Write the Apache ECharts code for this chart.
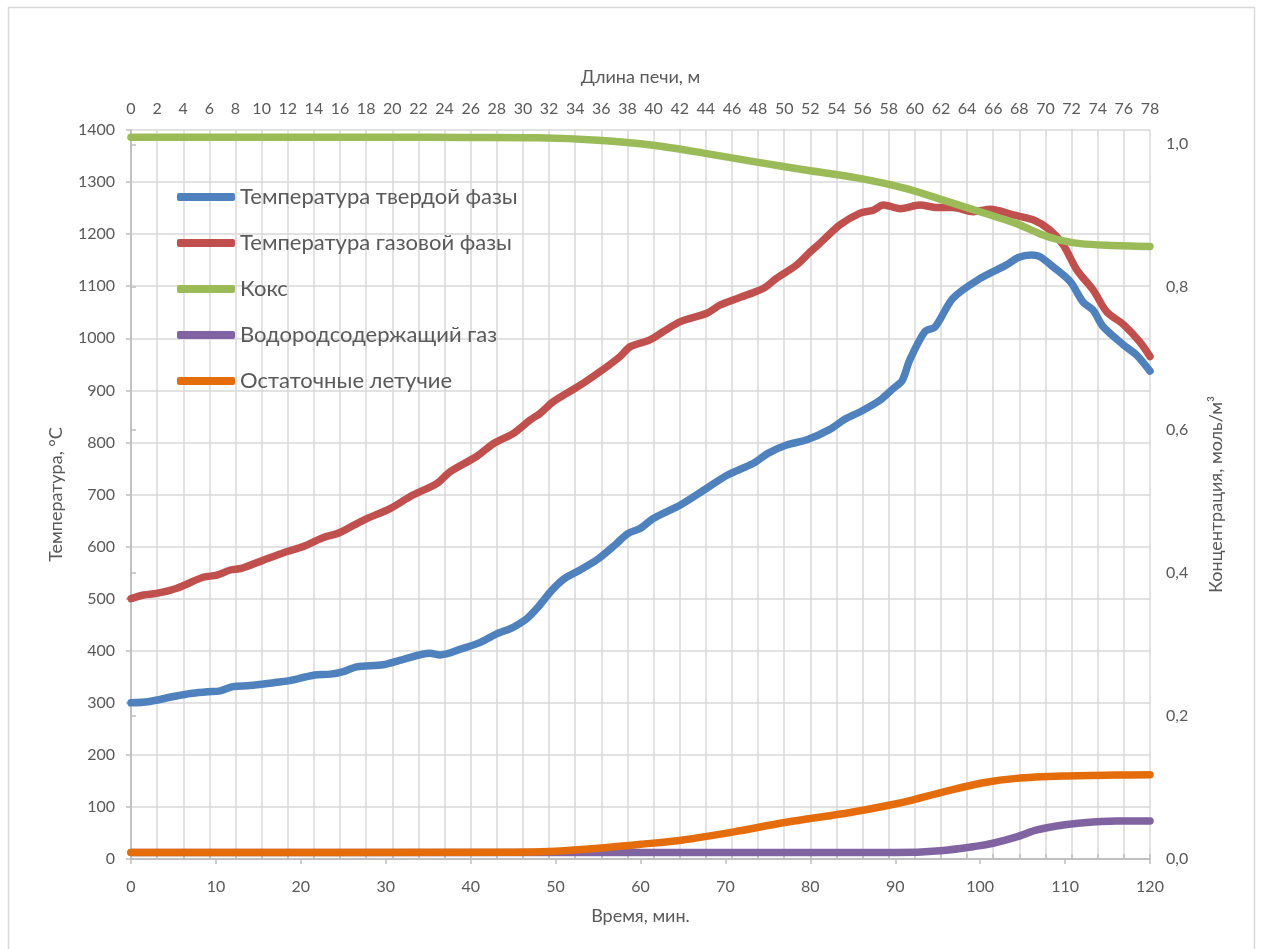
<!DOCTYPE html>
<html>
<head>
<meta charset="utf-8">
<script src="https://cdn.jsdelivr.net/npm/echarts@6/dist/echarts.min.js"></script>
<style>
  html, body { margin: 0; padding: 0; background: #ffffff; }
  #chart { width: 1261px; height: 949px; }
</style>
</head>
<body>
<div id="chart"></div>
<script>
// ---- Data ----
const seriesNames = ['Температура твердой фазы', 'Температура газовой фазы', 'Кокс', 'Водородсодержащий газ', 'Остаточные летучие'];

// Solid phase temperature, °C
const solidTime = [0, 2, 5, 7, 9, 10.5, 12, 14, 17, 18.5, 21.5, 23.5, 25, 26.6, 29.7, 32, 35.2, 36.4, 39, 41, 43, 45, 46.5, 48, 49.5, 51, 53, 55, 57, 58.5, 60, 61.5, 64.7, 67.8, 70.2, 73.3, 75, 77.2, 79.6, 82.3, 84, 86, 88.2, 89.8, 90.8, 91.7, 93.5, 94.7, 96.8, 100, 103, 104.5, 106, 107, 108.6, 110.6, 112.1, 113.3, 114.5, 116.9, 118.4, 120];
const solidTemp = [300, 302, 312, 318, 321, 323, 331, 333, 339, 342, 353, 355, 360, 369, 373, 383, 395, 392, 404, 415, 432, 445, 460, 485, 515, 538, 556, 576, 603, 625, 635, 654, 680, 712, 737, 760, 779, 795, 805, 825, 844, 860, 881, 904, 918, 958, 1013, 1022, 1077, 1115, 1140, 1155, 1160, 1157, 1137, 1109, 1070, 1054, 1022, 987, 968, 937];

// Gas phase temperature, °C
const gasTime = [0, 1.5, 3, 5.4, 8.5, 10.1, 11.7, 13, 15.6, 18.3, 20.3, 22.6, 24.6, 27.4, 30.5, 33.2, 36, 37.6, 40.7, 42.7, 45, 47, 48.2, 49.7, 52.9, 56, 57.6, 58.8, 61.1, 62.7, 64.7, 67.8, 69.4, 72.5, 74.5, 76, 78.4, 80, 81.1, 83.5, 85.8, 87.4, 88.6, 90.6, 92.9, 94.9, 96.8, 99.2, 101.2, 103.9, 106.3, 108.2, 109.8, 111.4, 113.3, 114.9, 116.9, 118.8, 120];
const gasTemp = [500, 507, 510, 520, 541, 545, 555, 558, 574, 590, 600, 617, 627, 651, 673, 699, 721, 744, 773, 798, 817, 843, 856, 878, 910, 945, 965, 984, 997, 1013, 1032, 1048, 1064, 1083, 1096, 1115, 1141, 1166, 1182, 1218, 1240, 1246, 1256, 1249, 1256, 1251, 1251, 1243, 1248, 1237, 1227, 1208, 1179, 1131, 1093, 1051, 1026, 993, 965];

// Coke concentration, mol/m3
const cokeTime = [0, 30, 40, 48, 55, 61.5, 67.8, 73.7, 79.6, 85.5, 91.3, 96.4, 101.2, 104.3, 107, 109.4, 111.8, 115, 120];
const cokeConc = [1.01, 1.01, 1.0095, 1.009, 1.0056, 0.9986, 0.987, 0.975, 0.9636, 0.953, 0.938, 0.919, 0.901, 0.889, 0.875, 0.866, 0.861, 0.8587, 0.857];

// Hydrogen-containing gas, mol/m3
const h2Time = [0, 90, 95.3, 99.6, 101.5, 104.3, 106.7, 109.8, 112.2, 116, 120];
const h2Conc = [0.009, 0.009, 0.0116, 0.018, 0.022, 0.031, 0.0406, 0.0476, 0.0508, 0.053, 0.0532];

// Residual volatiles, mol/m3
const volTime = [0, 45, 50, 55, 60, 65, 71, 77, 84.7, 89.4, 92, 95.7, 100.4, 104.3, 109.8, 116, 120];
const volConc = [0.009, 0.0095, 0.011, 0.015, 0.0205, 0.0266, 0.038, 0.051, 0.065, 0.0755, 0.0825, 0.094, 0.1067, 0.1128, 0.116, 0.1175, 0.1178];

// Axis ticks
const rightTicks = [0, 0.2, 0.4, 0.6, 0.8, 1.0];

const colors = ['#4F81BD', '#C0504D', '#9BBB59', '#8064A2', '#E46C0A'];
const FONT = 'Lato, "Open Sans", sans-serif';
const TXT = '#595959';
const AXIS = '#bfbfbf';
const GRID = '#d9d9d9';

const zip = (a, b) => a.map((t, i) => [t, b[i]]);

function lineSeries(idx, data, yAxisIndex) {
  return {
    name: seriesNames[idx],
    type: 'line',
    xAxisIndex: 0,
    yAxisIndex: yAxisIndex,
    data: data,
    smooth: 0.3,
    showSymbol: false,
    symbol: 'none',
    lineStyle: { width: 7.5, color: colors[idx], cap: 'round', join: 'round' },
    itemStyle: { color: colors[idx] },
    z: 2 + idx
  };
}

const chart = echarts.init(document.getElementById('chart'), null, { renderer: 'canvas' });
chart.setOption({
  animation: false,
  backgroundColor: '#ffffff',
  textStyle: { fontFamily: FONT },
  graphic: [{
    type: 'rect',
    shape: { x: 8.5, y: 7.5, width: 1246, height: 945 },
    style: { fill: 'none', stroke: GRID, lineWidth: 1.5 },
    silent: true
  }],
  grid: { left: 131, right: 111, top: 130, bottom: 90 },
  legend: {
    orient: 'vertical',
    left: 177,
    top: 186,
    padding: 0,
    icon: 'roundRect',
    itemWidth: 58,
    itemHeight: 8,
    itemGap: 24,
    data: seriesNames,
    textStyle: { fontFamily: FONT, fontSize: 22, lineHeight: 22, color: TXT }
  },
  xAxis: [{
    type: 'value',
    position: 'bottom',
    min: 0, max: 120, interval: 10,
    name: 'Время, мин.',
    nameLocation: 'middle',
    nameGap: 48,
    nameTextStyle: { fontFamily: FONT, fontSize: 18, color: TXT },
    axisLine: { show: true, lineStyle: { color: AXIS, width: 1.5 } },
    axisTick: { show: true, inside: false, length: 5, lineStyle: { color: AXIS, width: 1.5 } },
    axisLabel: { fontFamily: FONT, fontSize: 16, color: TXT, margin: 20 },
    splitLine: { show: false }
  }, {
    type: 'value',
    position: 'top',
    min: 0, max: 78, interval: 2,
    name: 'Длина печи, м',
    nameLocation: 'middle',
    nameGap: 44,
    nameTextStyle: { fontFamily: FONT, fontSize: 18, color: TXT },
    axisLine: { show: true, lineStyle: { color: AXIS, width: 1.5 } },
    axisTick: { show: true, inside: false, length: 5, lineStyle: { color: AXIS, width: 1.5 } },
    axisLabel: { fontFamily: FONT, fontSize: 16, color: TXT, margin: 13 },
    splitLine: { show: true, lineStyle: { color: GRID, width: 1.5 } }
  }],
  yAxis: [{
    type: 'value',
    position: 'left',
    min: 0, max: 1400, interval: 100,
    name: 'Температура, °C',
    nameLocation: 'middle',
    nameRotate: 90,
    nameGap: 66,
    nameTextStyle: { fontFamily: FONT, fontSize: 18, color: TXT },
    axisLine: { show: true, lineStyle: { color: AXIS, width: 1.5 } },
    axisTick: { show: true, inside: false, length: 5, lineStyle: { color: AXIS, width: 1.5 } },
    axisLabel: { fontFamily: FONT, fontSize: 16, color: TXT, margin: 16, formatter: v => String(Math.round(v)) },
    splitLine: { show: true, lineStyle: { color: GRID, width: 1.5 } }
  }, {
    type: 'value',
    position: 'right',
    min: 0, max: 1.02, interval: 0.2,
    name: 'Концентрация, моль/м³',
    nameLocation: 'middle',
    nameRotate: 90,
    nameGap: 57,
    nameTextStyle: { fontFamily: FONT, fontSize: 18, color: TXT },
    axisLine: { show: true, lineStyle: { color: AXIS, width: 1.5 } },
    axisTick: { show: true, inside: false, length: 5, lineStyle: { color: AXIS, width: 1.5 }, customValues: rightTicks },
    axisLabel: {
      fontFamily: FONT, fontSize: 16, color: TXT, margin: 16,
      customValues: rightTicks,
      formatter: v => (Math.abs(v - 1.02) < 1e-6 ? '' : v.toFixed(1).replace('.', ','))
    },
    splitLine: { show: false }
  }],
  series: [
    lineSeries(0, zip(solidTime, solidTemp), 0),
    lineSeries(1, zip(gasTime, gasTemp), 0),
    lineSeries(2, zip(cokeTime, cokeConc), 1),
    lineSeries(3, zip(h2Time, h2Conc), 1),
    lineSeries(4, zip(volTime, volConc), 1)
  ]
});
</script>
</body>
</html>
